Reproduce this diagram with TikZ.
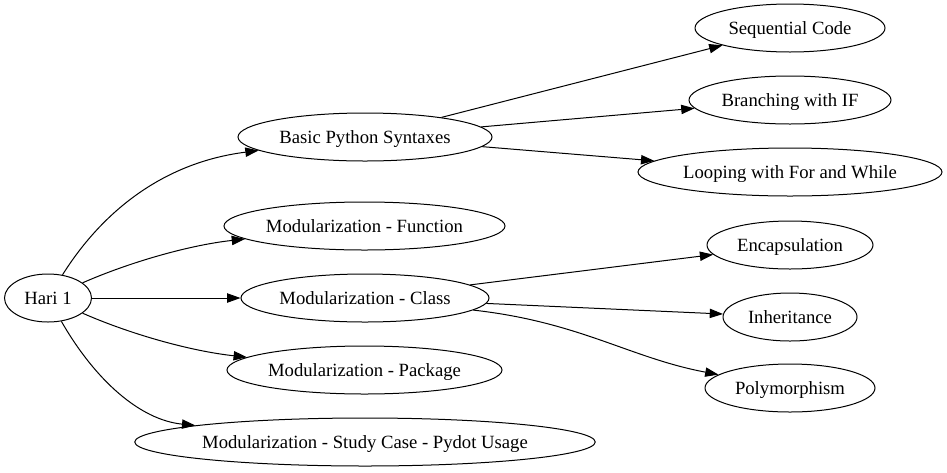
\documentclass[tikz,border=0pt]{standalone}
\usepackage{fontspec}
\setmainfont{Liberation Serif}
\usetikzlibrary{shapes.geometric,arrows.meta}
\tikzset{
  gvnode/.style={draw=black, line width=1pt, ellipse, inner sep=0pt, minimum height=48pt,
    text height=12.6pt, text depth=0pt,
    font=\fontsize{18.67}{22}\selectfont},
  gvedge/.style={draw=black, line width=1pt, -{Triangle[length=13.3pt,width=9.3pt]}}
}
\begin{document}
\begin{tikzpicture}[x=1pt,y=-1pt]
\useasboundingbox (0,0) rectangle (947,472);
\node[gvnode, minimum width=87pt] (hari) at (48,298) {Hari 1};
\node[gvnode, minimum width=254pt] (basic) at (365,137) {Basic Python Syntaxes};
\node[gvnode, minimum width=281pt] (func) at (364.5,226) {Modularization - Function};
\node[gvnode, minimum width=248pt] (class) at (365,298) {Modularization - Class};
\node[gvnode, minimum width=275pt] (pkg) at (364.5,370) {Modularization - Package};
\node[gvnode, minimum width=454pt] (study) at (365,442) {Modularization - Study Case - Pydot Usage};
\node[gvnode, minimum width=190pt] (seq) at (790,28) {Sequential Code};
\node[gvnode, minimum width=202pt] (branch) at (790,100) {Branching with IF};
\node[gvnode, minimum width=304pt] (loop) at (790,172) {Looping with For and While};
\node[gvnode, minimum width=166pt] (enc) at (790,245) {Encapsulation};
\node[gvnode, minimum width=134pt] (inh) at (790,317) {Inheritance};
\node[gvnode, minimum width=170pt] (poly) at (790,388) {Polymorphism};

\draw[gvedge] (hari) .. controls (100,215) and (160,163) .. (basic);
\draw[gvedge] (hari) .. controls (130,262) and (190,245) .. (func);
\draw[gvedge] (hari) -- (class);
\draw[gvedge] (hari) .. controls (130,334) and (190,351) .. (pkg);
\draw[gvedge] (hari) .. controls (95,380) and (140,420) .. (study);
\draw[gvedge] (basic) -- (seq);
\draw[gvedge] (basic) -- (branch);
\draw[gvedge] (basic) -- (loop);
\draw[gvedge] (class) -- (enc);
\draw[gvedge] (class) -- (inh);
\draw[gvedge] (class) .. controls (580,322) and (630,358) .. (poly);
\end{tikzpicture}
\end{document}
